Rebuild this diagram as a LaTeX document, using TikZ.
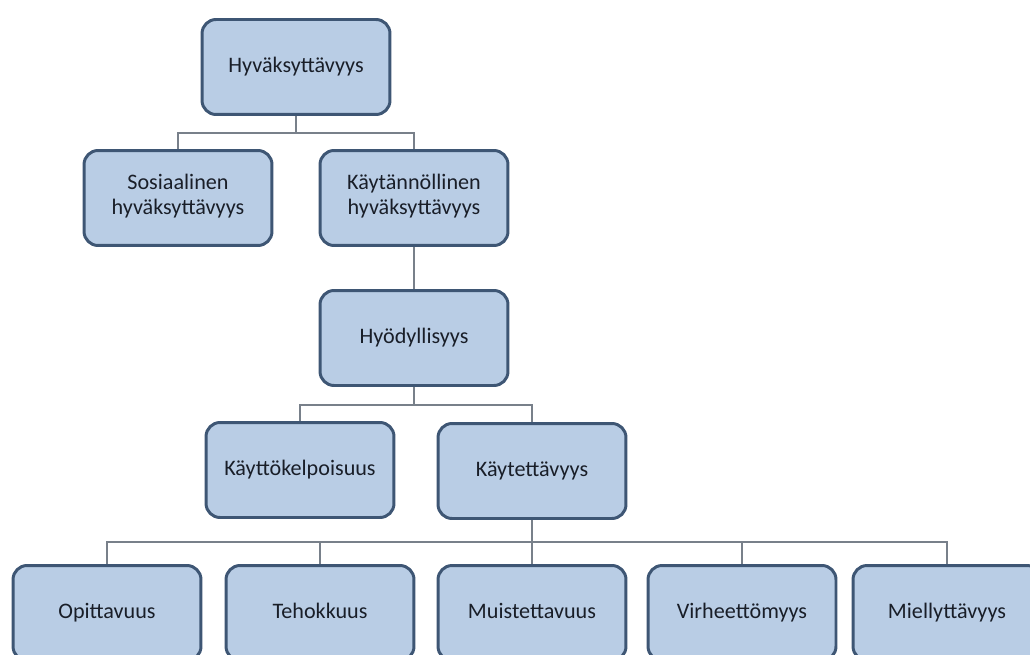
\documentclass[tikz,border=0pt]{standalone}
\usepackage{fontspec}
\setmainfont{Carlito}
\usepackage{xcolor}
\usepackage{tikz}
\definecolor{boxfill}{RGB}{185,205,229}
\definecolor{boxline}{RGB}{62,86,116}
\definecolor{linkgray}{RGB}{120,128,138}
\definecolor{txt}{RGB}{25,30,40}

\begin{document}
\begin{tikzpicture}[x=0.02cm,y=-0.02cm,
  box/.style={draw=boxline,fill=boxfill,line width=1.7pt,rounded corners=8pt,
    minimum width=3.76cm,minimum height=1.9cm,inner sep=2pt,align=center,
    text=txt,font=\fontsize{12.6}{14.5}\selectfont,
    execute at begin node=\strut,execute at end node=\strut},
  link/.style={draw=linkgray,line width=0.7pt}]
  \useasboundingbox (0,0) rectangle (1030,655);
  \clip (0,0) rectangle (1030,655);
  % bus points
  \coordinate (b1) at (296,133);
  \coordinate (b3) at (414,405);
  \coordinate (b4) at (532,542);
  % top levels
  \node[box] (hyv)   at (296,67)  {Hyväksyttävyys};
  \node[box] (sos)   at (178,198) {Sosiaalinen\\hyväksyttävyys};
  \node[box] (kaytn) at (414,198) {Käytännöllinen\\hyväksyttävyys};
  \node[box] (hyod)  at (414,338) {Hyödyllisyys};
  \node[box] (kelp)  at (300,470) {Käyttökelpoisuus};
  \node[box] (kaytt) at (532,471) {Käytettävyys};
  % bottom row, partly cut off by the frame
  \node[box] (opit)  at (107,613) {Opittavuus};
  \node[box] (teho)  at (320,613) {Tehokkuus};
  \node[box] (muist) at (532,613) {Muistettavuus};
  \node[box] (virhe) at (742,613) {Virheettömyys};
  \node[box] (miel)  at (947,613) {Miellyttävyys};
  % connectors
  \draw[link] (hyv.south) -- (b1);
  \draw[link] (sos.north) |- (b1) -| (kaytn.north);
  \draw[link] (kaytn.south) -- (hyod.north);
  \draw[link] (hyod.south) -- (b3);
  \draw[link] (kelp.north) |- (b3) -| (kaytt.north);
  \draw[link] (kaytt.south) -- (b4);
  \foreach \n in {opit,teho,muist,virhe,miel}
    \draw[link] (b4) -| (\n.north);
\end{tikzpicture}
\end{document}
